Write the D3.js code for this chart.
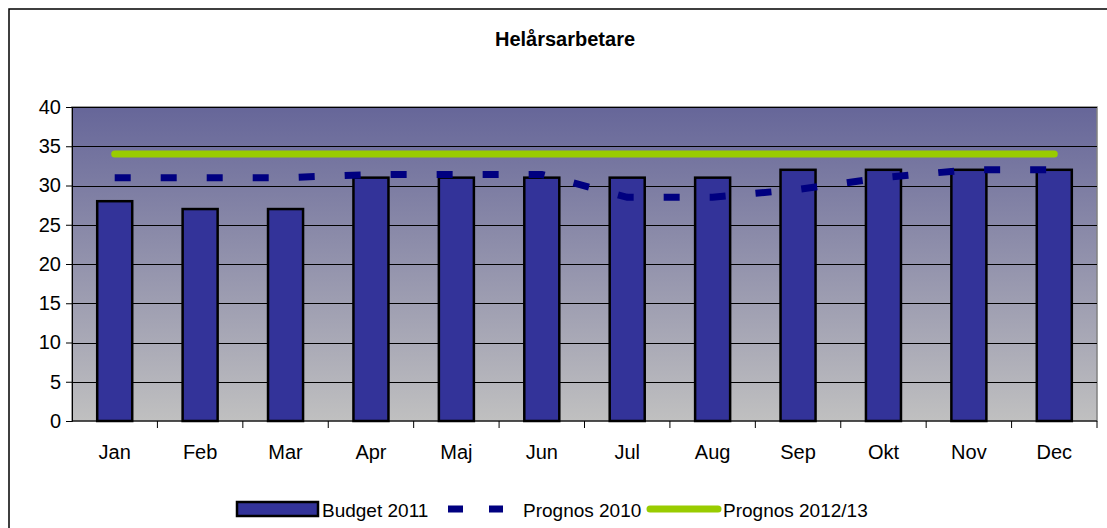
<!DOCTYPE html>
<html>
<head>
<meta charset="utf-8">
<script src="https://cdn.jsdelivr.net/npm/d3@7"></script>
<style>
  body { margin: 0; background: #fff; }
  svg { display: block; font-family: "Liberation Sans", Arial, sans-serif; }
</style>
</head>
<body>
<div id="main"></div>
<script>
var months = ["Jan", "Feb", "Mar", "Apr", "Maj", "Jun", "Jul", "Aug", "Sep", "Okt", "Nov", "Dec"];
var budget2011 = [28, 27, 27, 31, 31, 31, 31, 31, 32, 32, 32, 32];
var prognos2010 = [31, 31, 31, 31.4, 31.4, 31.4, 28.5, 28.5, 29.5, 31, 32, 32];
var prognos2012 = [34, 34, 34, 34, 34, 34, 34, 34, 34, 34, 34, 34];
var yTicks = [0, 5, 10, 15, 20, 25, 30, 35, 40];

var ctx = {
    w: 1107,
    h: 528,
    plot: { left: 72, right: 1097, top: 107, bottom: 421 },
};

var svg = d3.select("#main").append("svg")
    .attr("width", ctx.w)
    .attr("height", ctx.h);

// outer chart frame
svg.append("rect")
    .attr("x", 9).attr("y", 9)
    .attr("width", 1120).attr("height", 540)
    .attr("fill", "#fff")
    .attr("stroke", "#000").attr("stroke-width", 1.5);

svg.append("text")
    .attr("x", 565).attr("y", 46)
    .attr("text-anchor", "middle")
    .attr("font-size", 20).attr("font-weight", "bold")
    .text("Helårsarbetare");

var x = d3.scaleBand().domain(months)
    .range([ctx.plot.left, ctx.plot.right]);
var y = d3.scaleLinear().domain([0, 40])
    .range([ctx.plot.bottom, ctx.plot.top]);

var defs = svg.append("defs");
var grad = defs.append("linearGradient")
    .attr("id", "bg").attr("x1", 0).attr("y1", 0).attr("x2", 0).attr("y2", 1);
grad.append("stop").attr("offset", "0%").attr("stop-color", "#666699");
grad.append("stop").attr("offset", "100%").attr("stop-color", "#c0c0c0");

svg.append("rect")
    .attr("x", ctx.plot.left).attr("y", ctx.plot.top)
    .attr("width", ctx.plot.right - ctx.plot.left)
    .attr("height", ctx.plot.bottom - ctx.plot.top)
    .attr("fill", "url(#bg)")
    .attr("stroke", "#808080").attr("stroke-width", 1.5);

// gridlines
svg.append("g").selectAll("line")
    .data(yTicks.slice(1))
    .enter().append("line")
    .attr("x1", ctx.plot.left).attr("x2", ctx.plot.right)
    .attr("y1", function (d) { return Math.round(y(d)) + 0.5; })
    .attr("y2", function (d) { return Math.round(y(d)) + 0.5; })
    .attr("stroke", "#000").attr("stroke-width", 1);

// y axis
var yAxis = svg.append("g")
    .attr("transform", "translate(" + ctx.plot.left + ",0)")
    .call(d3.axisLeft(y).tickValues(yTicks).tickSize(6).tickPadding(5));
yAxis.selectAll("text").attr("font-size", 20).attr("fill", "#000")
    .attr("font-family", "Liberation Sans, Arial, sans-serif");
yAxis.selectAll("line,path").attr("stroke", "#000");

// x axis, ticks at band edges
var xAxis = svg.append("g")
    .attr("transform", "translate(0," + ctx.plot.bottom + ")");
xAxis.append("line")
    .attr("x1", ctx.plot.left).attr("x2", ctx.plot.right)
    .attr("stroke", "#000");
xAxis.selectAll(".tk")
    .data(months)
    .enter().append("line")
    .attr("x1", function (d) { return x(d) + x.bandwidth(); })
    .attr("x2", function (d) { return x(d) + x.bandwidth(); })
    .attr("y1", 0).attr("y2", 7)
    .attr("stroke", "#000");
xAxis.selectAll("text")
    .data(months)
    .enter().append("text")
    .attr("x", function (d) { return x(d) + x.bandwidth() / 2; })
    .attr("y", 38)
    .attr("text-anchor", "middle")
    .attr("font-size", 20)
    .text(function (d) { return d; });

// bars
var barW = x.bandwidth() * 0.41;
svg.append("g").selectAll("rect")
    .data(budget2011)
    .enter().append("rect")
    .attr("x", function (d, i) { return x(months[i]) + (x.bandwidth() - barW) / 2; })
    .attr("y", function (d) { return y(d); })
    .attr("width", barW)
    .attr("height", function (d) { return y(0) - y(d); })
    .attr("fill", "#333399")
    .attr("stroke", "#000").attr("stroke-width", 2.5);

var cx = function (d, i) { return x(months[i]) + x.bandwidth() / 2; };

// Prognos 2012/13
svg.append("path")
    .datum(prognos2012)
    .attr("d", d3.line().x(cx).y(function (d) { return y(d); }))
    .attr("fill", "none")
    .attr("stroke", "#99cc00").attr("stroke-width", 7)
    .attr("stroke-linecap", "round");

// Prognos 2010
svg.append("path")
    .datum(prognos2010)
    .attr("d", d3.line().x(cx).y(function (d) { return y(d); }))
    .attr("fill", "none")
    .attr("stroke", "#000080").attr("stroke-width", 7)
    .attr("stroke-dasharray", "16,30");

// legend
var lg = svg.append("g").attr("font-size", 19);
lg.append("rect")
    .attr("x", 237).attr("y", 502).attr("width", 81).attr("height", 14)
    .attr("fill", "#333399").attr("stroke", "#000").attr("stroke-width", 2.5);
lg.append("text").attr("x", 322).attr("y", 517).text("Budget 2011");
lg.append("line")
    .attr("x1", 448).attr("x2", 503).attr("y1", 509).attr("y2", 509)
    .attr("stroke", "#000080").attr("stroke-width", 7)
    .attr("stroke-dasharray", "15,26");
lg.append("text").attr("x", 523).attr("y", 517).text("Prognos 2010");
lg.append("line")
    .attr("x1", 650).attr("x2", 718).attr("y1", 509).attr("y2", 509)
    .attr("stroke", "#99cc00").attr("stroke-width", 7)
    .attr("stroke-linecap", "round");
lg.append("text").attr("x", 723).attr("y", 517).text("Prognos 2012/13");
</script>
</body>
</html>
